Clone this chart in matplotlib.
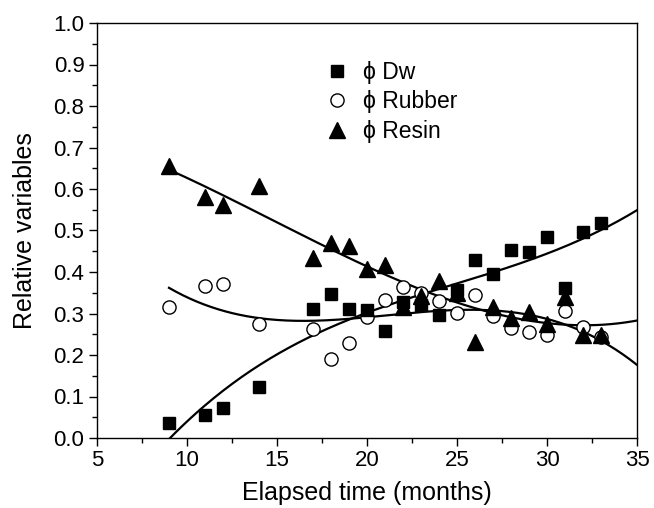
import numpy as np
import matplotlib
matplotlib.use('Agg')
import matplotlib.pyplot as plt
from matplotlib.ticker import MultipleLocator

plt.rcParams['font.family'] = ['Liberation Sans', 'DejaVu Sans']

# months
t = np.array([9, 11, 12, 14, 17, 18, 19, 20, 21, 22, 23, 24, 25, 26, 27, 28, 29, 30, 31, 32, 33])
dw = np.array([0.037, 0.055, 0.073, 0.122, 0.310, 0.347, 0.311, 0.308, 0.258, 0.328, 0.320,
               0.296, 0.357, 0.429, 0.395, 0.453, 0.449, 0.484, 0.361, 0.497, 0.517])
rubber = np.array([0.315, 0.367, 0.371, 0.275, 0.262, 0.191, 0.230, 0.292, 0.333, 0.363, 0.349,
                   0.330, 0.302, 0.345, 0.294, 0.264, 0.256, 0.248, 0.306, 0.267, 0.244])
resin = np.array([0.656, 0.581, 0.561, 0.608, 0.434, 0.469, 0.463, 0.407, 0.417, 0.315, 0.343,
                  0.379, 0.350, 0.232, 0.316, 0.290, 0.304, 0.275, 0.340, 0.247, 0.247])

fig = plt.figure(figsize=(6.54, 5.08), dpi=100)
ax = fig.add_axes([97/654, 1 - 438/508, 540/654, 415/508])

# cubic trend lines
tt = np.linspace(9, 35, 200)
for y in (dw, rubber, resin):
    p = np.polyfit(t, y, 3)
    ax.plot(tt, np.polyval(p, tt), 'k-', lw=1.6, zorder=1)

ax.plot(t, dw, 's', color='k', ms=9, ls='none', label='\u03d5 Dw', zorder=3)
ax.plot(t, rubber, 'o', mfc='white', mec='k', mew=1.0, ms=9.5, ls='none', label='\u03d5 Rubber', zorder=2)
ax.plot(t, resin, '^', color='k', ms=11, ls='none', label='\u03d5 Resin', zorder=3)

ax.set_xlim(5, 35)
ax.set_ylim(0, 1.0)
ax.xaxis.set_major_locator(MultipleLocator(5))
ax.xaxis.set_minor_locator(MultipleLocator(2.5))
ax.yaxis.set_major_locator(MultipleLocator(0.1))
ax.yaxis.set_minor_locator(MultipleLocator(0.05))
ax.yaxis.set_major_formatter(matplotlib.ticker.FormatStrFormatter('%.1f'))
ax.tick_params(which='major', direction='out', length=6, width=1, labelsize=16, pad=3)
ax.tick_params(which='minor', direction='out', length=3.5, width=1)
for s in ax.spines.values():
    s.set_linewidth(1.0)

ax.set_xlabel('Elapsed time (months)', fontsize=18, labelpad=7)
ax.set_ylabel('Relative variables', fontsize=18, labelpad=12)

ax.legend(loc='upper left', bbox_to_anchor=(0.395, 0.93), frameon=False, fontsize=16.5,
          handletextpad=0.4, labelspacing=0.27, borderaxespad=0, handlelength=1.5)

plt.savefig('out.png', dpi=100)
